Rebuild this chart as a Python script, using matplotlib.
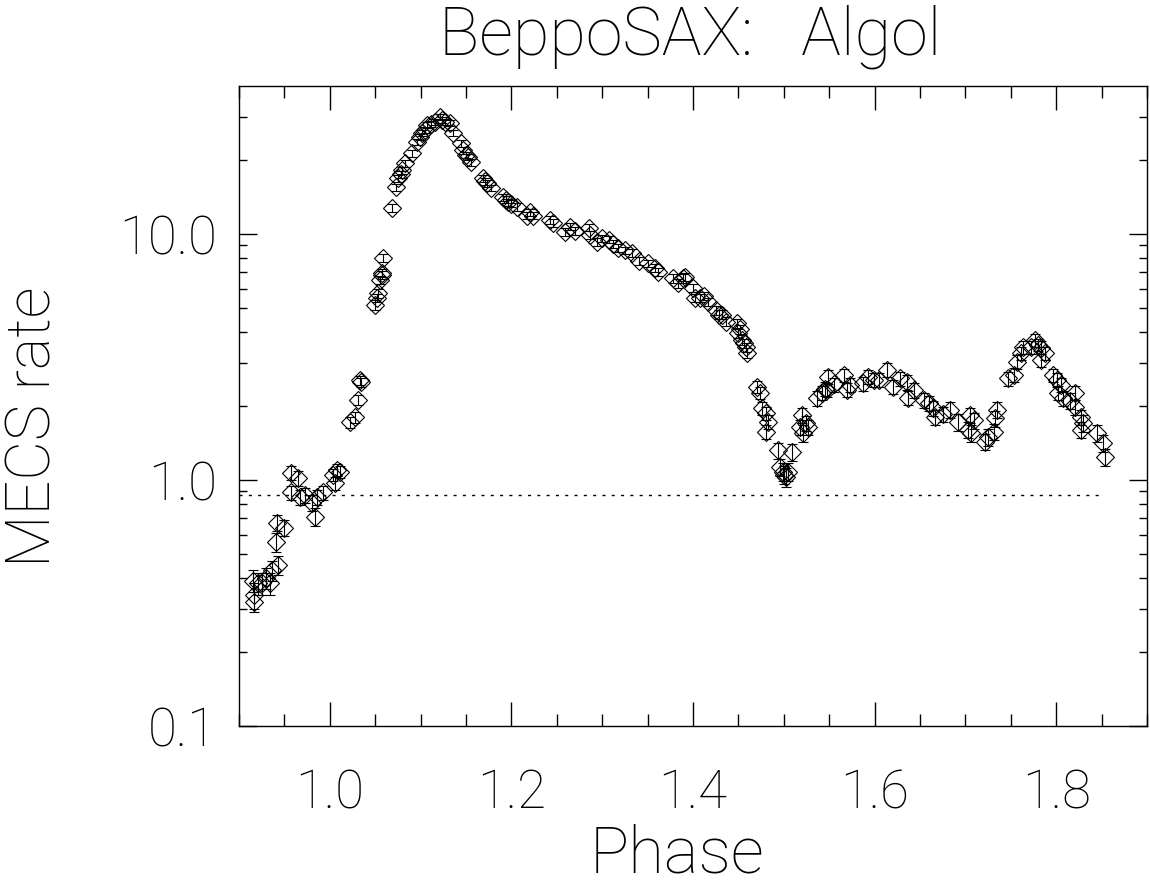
import matplotlib
matplotlib.use('Agg')
import matplotlib.pyplot as plt
from matplotlib import font_manager
from matplotlib.ticker import FixedLocator, NullFormatter, MultipleLocator

# light rate curve of Algol, BeppoSAX MECS
phase = [0.915, 0.917, 0.917, 0.921, 0.925, 0.930, 0.934, 0.936, 0.941, 0.942,
         0.943, 0.950, 0.957, 0.957, 0.965, 0.967, 0.973, 0.980, 0.984, 0.986,
         0.993, 1.004, 1.006, 1.008, 1.011, 1.022, 1.028, 1.031, 1.033, 1.034,
         1.050, 1.052, 1.053, 1.055, 1.057, 1.058, 1.059, 1.069, 1.073, 1.075,
         1.078, 1.080, 1.083, 1.090, 1.096, 1.099, 1.102, 1.105, 1.107, 1.111,
         1.116, 1.121, 1.124, 1.127, 1.132, 1.136, 1.144, 1.147, 1.150, 1.152,
         1.155, 1.169, 1.171, 1.173, 1.177, 1.191, 1.194, 1.196, 1.200, 1.206,
         1.217, 1.221, 1.224, 1.243, 1.246, 1.259, 1.265, 1.270, 1.285, 1.287,
         1.294, 1.300, 1.307, 1.312, 1.317, 1.325, 1.333, 1.340, 1.350, 1.358,
         1.362, 1.378, 1.384, 1.389, 1.391, 1.400, 1.402, 1.408, 1.412, 1.416,
         1.425, 1.429, 1.432, 1.436, 1.449, 1.450, 1.452, 1.454, 1.456, 1.458,
         1.460, 1.471, 1.474, 1.476, 1.480, 1.480, 1.483, 1.494, 1.496, 1.499,
         1.500, 1.502, 1.505, 1.509, 1.518, 1.520, 1.521, 1.524, 1.527, 1.537,
         1.542, 1.545, 1.548, 1.549, 1.555, 1.566, 1.570, 1.573, 1.587, 1.593,
         1.599, 1.605, 1.614, 1.620, 1.628, 1.636, 1.637, 1.643, 1.654, 1.660,
         1.664, 1.667, 1.675, 1.683, 1.692, 1.703, 1.705, 1.706, 1.710, 1.722,
         1.725, 1.731, 1.733, 1.735, 1.747, 1.753, 1.757, 1.761, 1.763, 1.772,
         1.777, 1.780, 1.783, 1.783, 1.788, 1.797, 1.801, 1.802, 1.805, 1.807,
         1.815, 1.821, 1.821, 1.827, 1.827, 1.829, 1.845, 1.851, 1.854]
rate = [0.39, 0.34, 0.32, 0.38, 0.38, 0.40, 0.38, 0.43, 0.56, 0.67,
        0.45, 0.64, 1.07, 0.89, 1.02, 0.85, 0.87, 0.81, 0.71, 0.85,
        0.89, 1.05, 0.97, 1.10, 1.08, 1.72, 1.80, 2.11, 2.55, 2.50,
        5.15, 5.50, 5.75, 6.50, 6.80, 6.94, 7.99, 12.75, 15.5, 16.9,
        17.5, 18.2, 19.4, 21.3, 23.7, 24.8, 25.7, 26.5, 27.7, 28.0,
        28.5, 29.9, 29.0, 28.5, 28.3, 25.7, 23.4, 21.9, 21.0, 20.6,
        19.6, 16.9, 16.4, 16.1, 15.4, 14.1, 13.8, 13.5, 13.3, 12.9,
        11.9, 12.3, 11.9, 11.4, 11.1, 10.2, 10.7, 10.3, 10.6, 9.9,
        9.3, 9.6, 9.5, 9.1, 8.8, 8.6, 8.4, 7.8, 7.6, 7.3,
        7.0, 6.6, 6.3, 6.6, 6.7, 6.03, 5.5, 5.5, 5.6, 5.3,
        4.9, 4.7, 4.7, 4.4, 4.35, 3.96, 4.1, 3.71, 3.6, 3.47,
        3.28, 2.39, 2.26, 1.96, 1.87, 1.57, 1.72, 1.32, 1.13, 1.08,
        1.05, 1.03, 1.08, 1.30, 1.64, 1.84, 1.55, 1.70, 1.64, 2.15,
        2.26, 2.35, 2.32, 2.62, 2.45, 2.67, 2.32, 2.43, 2.47, 2.62,
        2.56, 2.55, 2.80, 2.39, 2.59, 2.50, 2.16, 2.32, 2.11, 2.05,
        1.96, 1.80, 1.85, 1.93, 1.72, 1.60, 1.84, 1.55, 1.75, 1.43,
        1.50, 1.57, 1.78, 1.93, 2.59, 2.68, 3.02, 3.28, 3.47, 3.47,
        3.71, 3.55, 3.45, 3.07, 3.28, 2.67, 2.56, 2.26, 2.43, 2.15,
        2.10, 2.26, 1.98, 1.80, 1.60, 1.70, 1.55, 1.41, 1.24]
rate_err = [0.04, 0.04, 0.03, 0.04, 0.04, 0.04, 0.04, 0.04, 0.05, 0.05,
            0.04, 0.05, 0.07, 0.06, 0.07, 0.06, 0.06, 0.06, 0.06, 0.06,
            0.06, 0.06, 0.06, 0.06, 0.06, 0.09, 0.09, 0.10, 0.11, 0.11,
            0.22, 0.22, 0.23, 0.25, 0.25, 0.26, 0.28, 0.45, 0.5, 0.55,
            0.55, 0.6, 0.6, 0.65, 0.7, 0.7, 0.75, 0.75, 0.8, 0.8,
            0.8, 0.85, 0.8, 0.8, 0.8, 0.75, 0.7, 0.65, 0.65, 0.6,
            0.6, 0.55, 0.55, 0.55, 0.5, 0.5, 0.45, 0.45, 0.45, 0.45,
            0.4, 0.4, 0.4, 0.4, 0.4, 0.35, 0.35, 0.35, 0.35, 0.35,
            0.33, 0.33, 0.33, 0.32, 0.31, 0.3, 0.3, 0.28, 0.28, 0.27,
            0.26, 0.25, 0.24, 0.25, 0.25, 0.23, 0.22, 0.22, 0.22, 0.21,
            0.2, 0.19, 0.19, 0.18, 0.18, 0.17, 0.17, 0.16, 0.16, 0.15,
            0.15, 0.13, 0.13, 0.12, 0.11, 0.10, 0.11, 0.10, 0.09, 0.09,
            0.09, 0.09, 0.09, 0.10, 0.12, 0.13, 0.12, 0.12, 0.12, 0.15,
            0.15, 0.15, 0.15, 0.17, 0.16, 0.17, 0.15, 0.16, 0.16, 0.17,
            0.17, 0.17, 0.18, 0.16, 0.17, 0.17, 0.15, 0.16, 0.15, 0.15,
            0.14, 0.13, 0.13, 0.14, 0.13, 0.12, 0.13, 0.12, 0.13, 0.11,
            0.12, 0.12, 0.13, 0.14, 0.17, 0.17, 0.19, 0.2, 0.21, 0.21,
            0.22, 0.21, 0.21, 0.19, 0.2, 0.17, 0.17, 0.15, 0.16, 0.15,
            0.15, 0.15, 0.14, 0.13, 0.12, 0.13, 0.12, 0.11, 0.1]
quiet_level = 0.87
quiet_span = [0.90, 1.852]

x_ticks = [1.0, 1.2, 1.4, 1.6, 1.8]
x_ticklabels = ['1.0', '1.2', '1.4', '1.6', '1.8']
y_ticks = [0.1, 1.0, 10.0]
y_ticklabels = ['0.1', '1.0', '10.0']


# pick a thin sans face, IDL hershey fonts are thin strokes
def thin_font():
    best = None
    for fam in ['Roboto', 'Lato', 'Open Sans', 'Inter', 'Noto Sans', 'DejaVu Sans']:
        for f in font_manager.fontManager.ttflist:
            if f.name != fam or f.style != 'normal':
                continue
            w = f.weight
            if isinstance(w, str):
                w = font_manager.weight_dict.get(w, 400)
            if best is None or w < best[1]:
                best = (fam, w)
        if best is not None and best[1] <= 300:
            return best
    return best if best else ('DejaVu Sans', 400)


fam, wt = thin_font()
plt.rcParams['font.family'] = [fam, 'DejaVu Sans']
plt.rcParams['font.weight'] = wt

fig = plt.figure(figsize=(11.5, 8.84), dpi=100)
ax = fig.add_axes([239 / 1150, 158 / 884, 908 / 1150, 640 / 884])

ax.errorbar(phase, rate, yerr=rate_err, fmt='none', ecolor='k',
            elinewidth=0.8, capsize=3.5, capthick=0.8)
ax.plot(phase, rate, 'D', ms=9, mfc='none', mec='k', mew=0.8)
ax.plot(quiet_span, [quiet_level, quiet_level], color='k', lw=1.0,
        dashes=(2.2, 4.5))

ax.set_yscale('log')
ax.set_xlim(0.9, 1.9)
ax.set_ylim(0.1, 40)

ax.xaxis.set_major_locator(FixedLocator(x_ticks))
ax.set_xticklabels(x_ticklabels)
ax.xaxis.set_minor_locator(MultipleLocator(0.05))
ax.yaxis.set_major_locator(FixedLocator(y_ticks))
ax.set_yticklabels(y_ticklabels)
minors = [m * d for d in (0.1, 1, 10) for m in range(2, 10) if m * d < 40]
ax.yaxis.set_minor_locator(FixedLocator(minors))
ax.yaxis.set_minor_formatter(NullFormatter())

ax.tick_params(which='both', direction='in', top=True, right=True,
               width=1.0, color='k')
ax.tick_params(axis='x', which='major', length=17, pad=30, labelsize=38)
ax.tick_params(axis='x', which='minor', length=8.5)
ax.tick_params(axis='y', which='major', length=13, pad=16, labelsize=38)
ax.tick_params(axis='y', which='minor', length=6)
for s in ax.spines.values():
    s.set_linewidth(1.0)

fig.text(0.60, 0.958, 'BeppoSAX:   Algol', ha='center', va='center', fontsize=48)
fig.text(0.589, 0.033, 'Phase', ha='center', va='center', fontsize=47)
fig.text(0.029, 0.517, 'MECS rate', ha='center', va='center', rotation=90,
         fontsize=44)

fig.savefig('out.png', dpi=100)
